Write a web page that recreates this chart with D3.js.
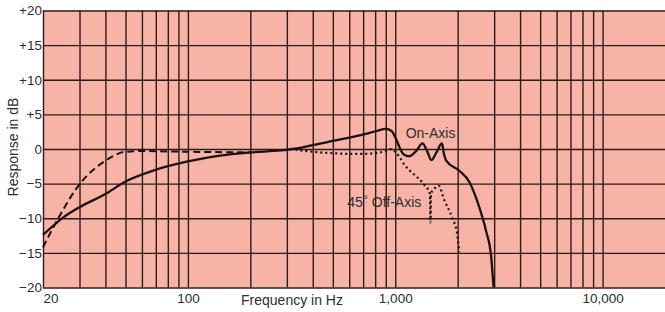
<!DOCTYPE html>
<html>
<head>
<meta charset="utf-8">
<script src="https://cdn.jsdelivr.net/npm/d3@7"></script>
<style>
  html, body { margin: 0; padding: 0; background: #fff; }
  svg { display: block; }
  text { font-family: "Liberation Sans", Arial, sans-serif; fill: #2e2e2e; }
</style>
</head>
<body>
<div class="canvas"></div>
<script>
// chart values
const gridFreqs = [20,30,40,50,60,70,80,90,100,200,300,400,500,600,700,800,900,
                   1000,2000,3000,4000,5000,6000,7000,8000,9000,10000];
const freqLabels = {20: '20', 100: '100', 1000: '1,000', 10000: '10,000'};
const dbTicks = [20, 15, 10, 5, 0, -5, -10, -15, -20];
const dbLabels = ['+20', '+15', '+10', '+5', '0', '\u22125', '\u221210', '\u221215', '\u221220'];

// on-axis response [Hz, dB]
const onAxis = [[20,-12.4],[25,-9.9],[30,-8.4],[40,-6.5],[50,-4.7],[70,-3.0],[100,-1.8],
  [140,-1.0],[200,-0.5],[280,-0.2],[320,0],[470,1.0],[680,2.0],[815,2.6],[900,2.9],
  [960,2.6],[1010,1.4],[1050,0.2],[1100,-0.8],[1170,-1.05],[1260,-0.3],[1354,0.8],
  [1420,-0.2],[1494,-1.6],[1580,-0.5],[1680,0.8],[1715,-0.6],[1765,-1.7],[2030,-3.1],
  [2280,-4.8],[2510,-7.9],[2740,-11.8],[2900,-15.5],[2980,-20]];

// close-talk (dashed) low end
const closeTalk = [[20,-14.2],[23.6,-10.1],[30,-5.1],[40,-1.7],[50,-0.4],[60,-0.3],
  [100,-0.4],[200,-0.5]];

// 45 degree off-axis (dotted)
const offAxis = [[330,-0.1],[400,-0.4],[500,-0.6],[600,-0.7],[700,-0.7],[800,-0.6],
  [900,-0.3],[960,0],[1000,-0.4],[1040,-1.0],[1115,-2.4],[1225,-3.6],[1370,-5.05],
  [1470,-6.5],[1478,-10.6],[1488,-6.4],[1560,-5.6],[1620,-5.3],[1720,-7.3],
  [1880,-9.9],[1990,-12.3],[2035,-14.9]];

const svg = d3.select('.canvas')
  .append('svg')
    .attr('width', 665)
    .attr('height', 312);

const x = d3.scaleLog()
  .domain([20, 20000])
  .range([43, 665]);

const y = d3.scaleLinear()
  .domain([-20, 20])
  .range([287.5, 10.5]);

// pink plot area
svg.append('rect')
  .attr('x', x(20))
  .attr('y', y(20))
  .attr('width', x(20000) - x(20))
  .attr('height', y(-20) - y(20))
  .attr('fill', '#f6b3a6');

// vertical grid + frequency labels
const xAxis = d3.axisBottom(x)
  .tickValues(gridFreqs)
  .tickSize(-(y(-20) - y(20)))
  .tickPadding(6)
  .tickFormat(d => freqLabels[d] || '');

const gx = svg.append('g')
  .attr('transform', `translate(0,${y(-20)})`)
  .call(xAxis);

// horizontal grid + dB labels
const yAxis = d3.axisLeft(y)
  .tickValues(dbTicks)
  .tickSize(-(x(20000) - x(20)))
  .tickPadding(1)
  .tickFormat((d, i) => dbLabels[i]);

const gy = svg.append('g')
  .attr('transform', `translate(${x(20)},0)`)
  .call(yAxis);

[gx, gy].forEach(g => {
  g.select('.domain').remove();
  g.selectAll('.tick line')
    .attr('stroke', '#2e1b19')
    .attr('stroke-width', 1.4);
  g.selectAll('.tick text')
    .attr('fill', '#2e2e2e')
    .style('font-size', '13.5px')
    .style('font-family', '"Liberation Sans", Arial, sans-serif');
});

// the first frequency label sits right of its line
gx.selectAll('.tick text')
  .filter(d => d === 20)
  .attr('text-anchor', 'start');

// curves
const line = d3.line()
  .x(d => x(d[0]))
  .y(d => y(d[1]))
  .curve(d3.curveMonotoneX);

svg.append('path')
  .datum(closeTalk)
  .attr('d', line)
  .attr('fill', 'none')
  .attr('stroke', '#1c1111')
  .attr('stroke-width', 2)
  .attr('stroke-dasharray', '7,4');

svg.append('path')
  .datum(offAxis)
  .attr('d', line)
  .attr('fill', 'none')
  .attr('stroke', '#1c1111')
  .attr('stroke-width', 2.2)
  .attr('stroke-dasharray', '2,3');

svg.append('path')
  .datum(onAxis)
  .attr('d', line)
  .attr('fill', 'none')
  .attr('stroke', '#1c1111')
  .attr('stroke-width', 2.3);

// curve labels
svg.append('text')
  .attr('x', x(1480))
  .attr('y', y(1.6))
  .attr('text-anchor', 'middle')
  .style('font-size', '14px')
  .text('On-Axis');

const off = svg.append('text')
  .attr('x', x(586))
  .attr('y', y(-8.4))
  .style('font-size', '14px');
off.append('tspan').text('45');
off.append('tspan').attr('dy', -3).style('font-size', '13px').text('°');
off.append('tspan').attr('dy', 3).text(' Off-Axis');

// axis titles
svg.append('text')
  .attr('x', 292)
  .attr('y', 305)
  .attr('text-anchor', 'middle')
  .style('font-size', '14px')
  .text('Frequency in Hz');

svg.append('text')
  .attr('transform', 'translate(18,147) rotate(-90)')
  .attr('text-anchor', 'middle')
  .style('font-size', '14px')
  .text('Response in dB');
</script>
</body>
</html>
